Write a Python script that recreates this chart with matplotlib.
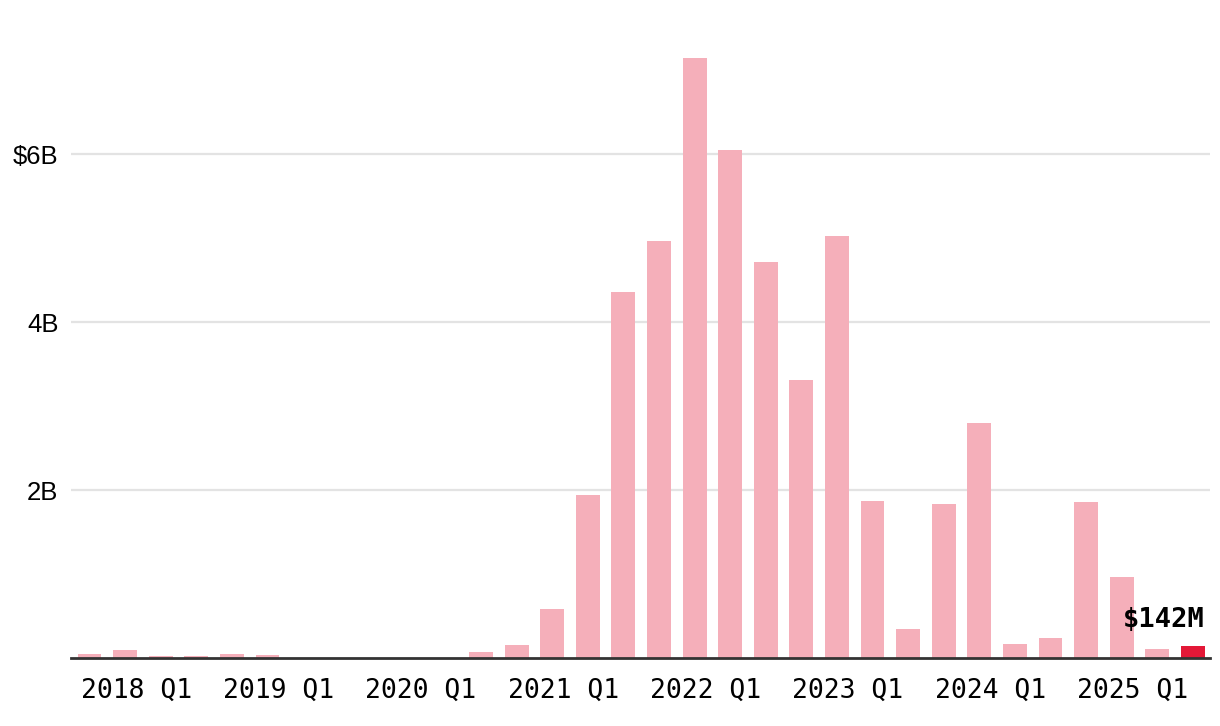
import numpy as np
import matplotlib
matplotlib.use('Agg')
import matplotlib.pyplot as plt

# Quarterly amounts in billions of dollars, 2018 Q1 .. 2025 Q4
years = [2018, 2019, 2020, 2021, 2022, 2023, 2024, 2025]
quarters = [f'{y} Q{q}' for y in years for q in range(1, 5)]
amounts = [
    0.048, 0.095, 0.024, 0.020,   # 2018
    0.045, 0.035, 0.0, 0.0,       # 2019
    0.0, 0.0, 0.0, 0.07,          # 2020
    0.155, 0.58, 1.94, 4.36,      # 2021
    4.96, 7.14, 6.05, 4.71,       # 2022
    3.31, 5.02, 1.87, 0.345,      # 2023
    1.83, 2.80, 0.17, 0.24,       # 2024
    1.86, 0.96, 0.105, 0.142,     # 2025
]
y_ticks = [2, 4, 6]
y_tick_labels = ['2B', '4B', '$6B']
last_label = '$142M'

pink = '#F5AFBA'
red = '#E31837'

fig = plt.figure(figsize=(12.2, 7.26), dpi=100)
ax = fig.add_axes([0.0582, 0.0937, 0.9336, 0.8513])

x = np.arange(len(amounts))
colors = [pink] * (len(amounts) - 1) + [red]
bar_w = 0.67
ax.bar(x, amounts, width=bar_w, color=colors, zorder=3)

ax.set_xlim(-0.52, len(amounts) - 0.52)
ax.set_ylim(0, 7.36)

# gridlines
ax.set_yticks(y_ticks)
ax.set_yticklabels(y_tick_labels, fontsize=18.5, family=['Liberation Sans', 'DejaVu Sans'])
ax.yaxis.grid(True, color='#e3e3e3', linewidth=1.6, zorder=0)
ax.tick_params(axis='y', length=0, pad=9)

# year labels, left-aligned under each Q1 bar
tick_pos = [i - bar_w / 2 + 0.085 for i in range(0, len(amounts), 4)]
ax.set_xticks(tick_pos)
ax.set_xticklabels([f'{y} Q1' for y in years], fontsize=19,
                   family='DejaVu Sans Mono', ha='left')
ax.tick_params(axis='x', length=0, pad=14)

for s in ['top', 'right', 'left']:
    ax.spines[s].set_visible(False)
ax.spines['bottom'].set_color('#333333')
ax.spines['bottom'].set_linewidth(2)
ax.spines['bottom'].set_zorder(4)

ax.annotate(last_label, xy=(x[-1] + bar_w / 2, amounts[-1]), xytext=(0, 14),
            textcoords='offset points', ha='right', va='baseline',
            fontsize=19.5, fontweight='bold', family='DejaVu Sans Mono')

fig.savefig('out.png', dpi=100)
